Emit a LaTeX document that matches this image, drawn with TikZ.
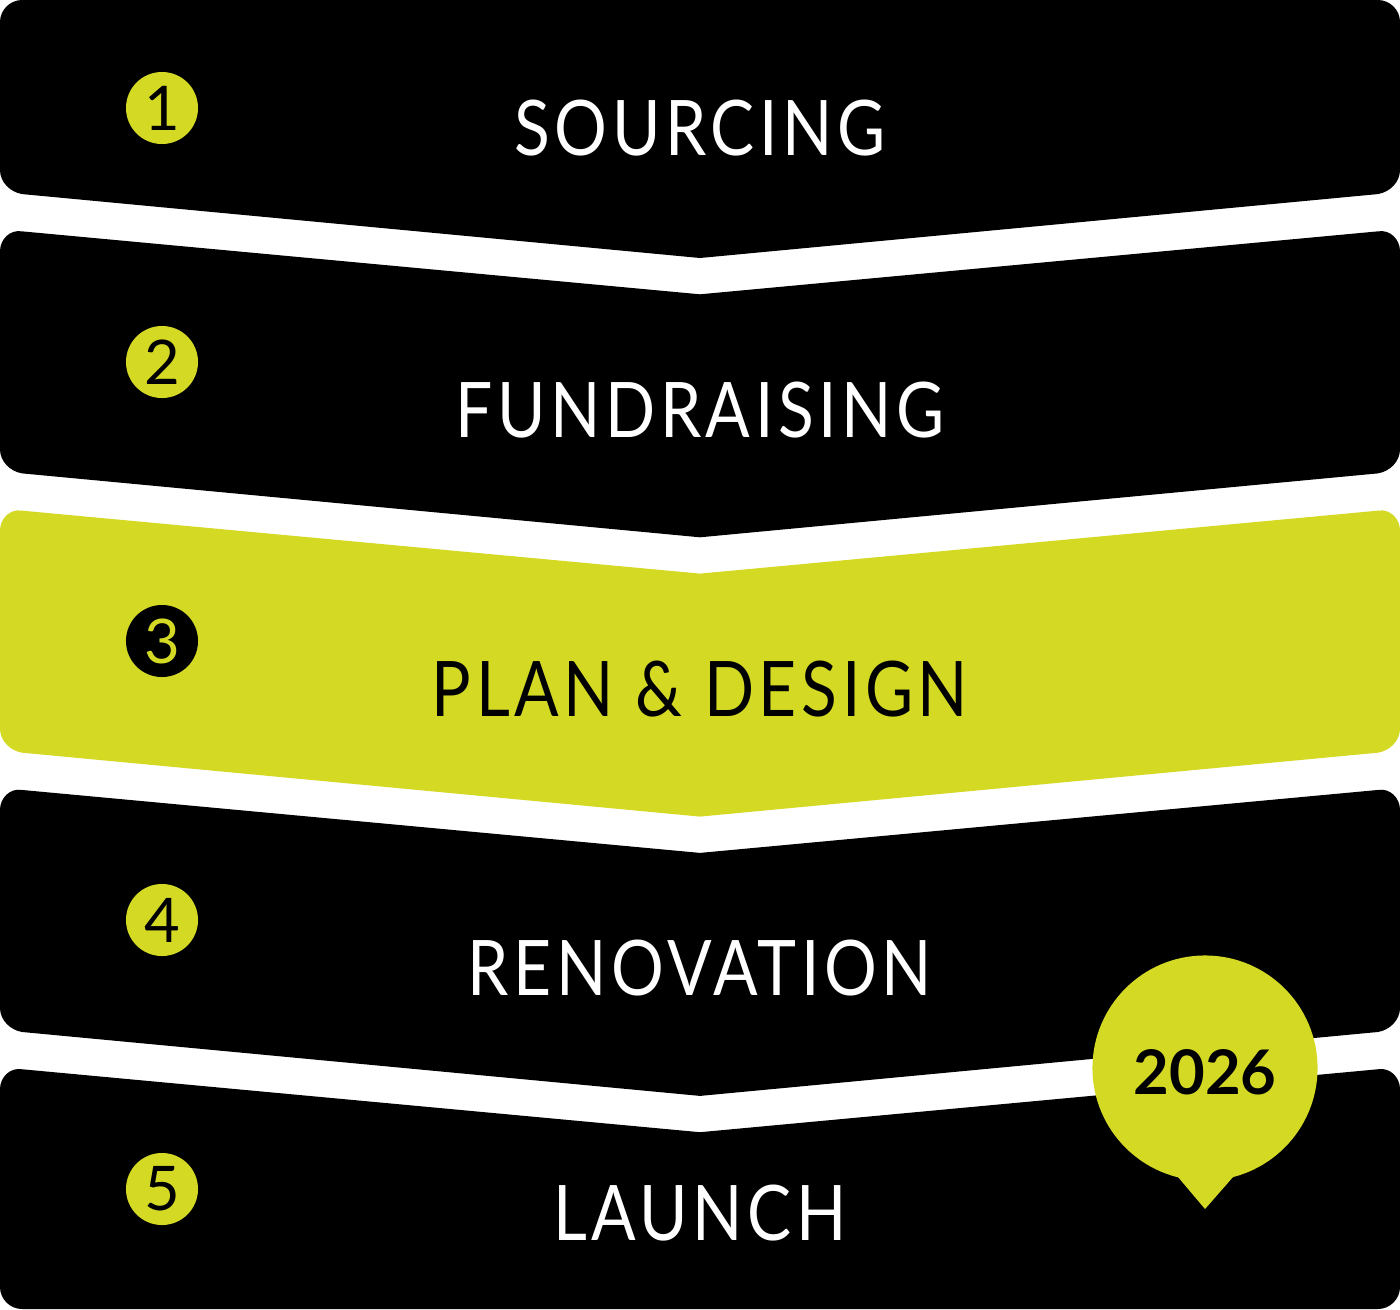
\documentclass[tikz,border=0pt]{standalone}
\usepackage{fontspec}
\setmainfont{Lato}[FakeStretch=0.86,LetterSpace=6]
\newfontfamily\numfont{Lato}
\definecolor{lime}{RGB}{212,218,36}
\begin{document}
\begin{tikzpicture}[x=0.01cm,y=-0.01cm,line join=round,
	title/.style={anchor=base,inner sep=0pt,font=\fontsize{21.8}{24}\selectfont},
	badge/.style={circle,minimum size=0.72cm,inner sep=0pt,font=\numfont\fontsize{17.5}{18}\selectfont}]
	\useasboundingbox (0,0) rectangle (1400,1309);
	% the five chevron bands, rounded at the sides, sharp at the middle
	\foreach \k/\c in {0/black,1/black,2/lime,3/black,4/black}{
		\pgfmathsetmacro\ts{\k==0 ? 0 : -50+279.3*\k}
		\pgfmathsetmacro\tc{\k==0 ? 0 : \ts+65}
		\pgfmathsetmacro\bs{\k==4 ? 1309 : 192+279.3*\k}
		\pgfmathsetmacro\bc{\k==4 ? 1309 : \bs+66}
		\pgfmathsetmacro\dt{(\tc-\ts)*22/700}
		\pgfmathsetmacro\db{(\bc-\bs)*22/700}
		\fill[\c] (700,\tc) -- (1378,\ts+\dt) .. controls (1390,\ts) and (1400,\ts+10) .. (1400,\ts+22)
			-- (1400,\bs-22) .. controls (1400,\bs-10) and (1390,\bs) .. (1378,\bs+\db)
			-- (700,\bc) -- (22,\bs+\db) .. controls (10,\bs) and (0,\bs-10) .. (0,\bs-22)
			-- (0,\ts+22) .. controls (0,\ts+10) and (10,\ts) .. (22,\ts+\dt) -- cycle;
	}
	\foreach \k/\t/\y/\d in {1/SOURCING/155/white,2/FUNDRAISING/437/white,3/PLAN \& DESIGN/716/black,4/RENOVATION/995/white,5/LAUNCH/1240/white}
		\node[title,text=\d] (t\k) at (700,\y) {\t};
	\foreach \k/\y/\f/\d in {1/108/lime/black,2/362/lime/black,3/641/black/lime,4/920/lime/black,5/1189/lime/black}
		\node[badge,fill=\f,text=\d] (n\k) at (162,\y) {\k};
	% year bubble
	\node[circle,fill=lime,minimum size=2.25cm,inner sep=0pt] (bub) at (1205,1068) {};
	\fill[lime] (1178,1177) -- (1205,1209) -- (1233,1177) -- cycle;
	\node[anchor=base,inner sep=0pt,font=\numfont\bfseries\fontsize{17.5}{18}\selectfont] (yr) at (bub.center|-0,1094) {2026};
\end{tikzpicture}
\end{document}
